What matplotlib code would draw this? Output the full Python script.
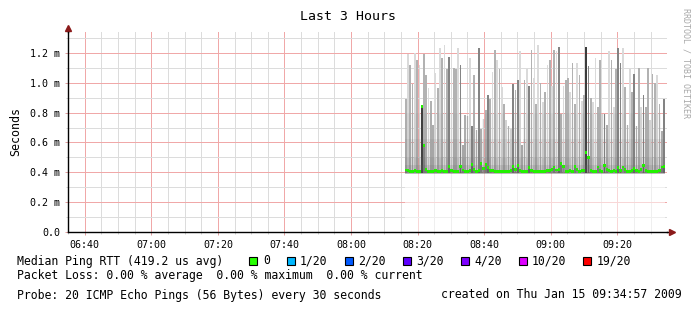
import numpy as np
import matplotlib
matplotlib.use('Agg')
import matplotlib.pyplot as plt
from matplotlib.patches import Rectangle

W, H = 697, 313
MONO = 'DejaVu Sans Mono'

# time range of the graph and of the samples, in minutes after midnight
axis_start = 6 * 60 + 34.95
axis_end = 9 * 60 + 34.95
data_start = 8 * 60 + 16.1
data_end = 9 * 60 + 34.4

# ping times in ms
min_rtt = 0.395
max_rtt = [
    0.89, 1.19, 1.12, 0.99, 1.20, 1.155, 1.12, 0.84, 1.19, 1.05,
    0.965, 0.88, 0.72, 1.065, 0.965, 1.23, 1.165, 1.255, 1.09, 1.175,
    1.03, 1.10, 1.09, 1.23, 1.12, 0.585, 0.785,
    0.775, 1.165, 0.71, 1.05, 0.685, 1.23, 0.69, 0.76, 0.82, 0.92,
    0.89, 1.07, 1.22, 1.15, 1.09, 0.97, 0.86, 0.75, 0.71, 0.69,
    0.99, 0.95, 1.02, 1.21, 0.58, 1.02, 1.09, 0.98, 1.22, 1.03,
    0.86,
    1.25, 1.00, 0.87, 0.94, 1.12, 1.15, 0.98, 1.22, 1.21, 1.24,
    0.79, 0.98, 1.02, 1.03, 0.94, 1.13, 0.86, 1.13, 1.05, 0.88,
    0.92, 1.24, 1.11, 0.90, 0.87, 1.165, 0.84, 1.155, 0.79,
    0.79, 0.72, 1.21, 1.15, 0.84, 1.09, 1.23, 1.13, 1.23, 0.97,
    0.72, 1.09, 0.94, 1.06, 0.71, 1.10, 0.84, 0.92, 0.84, 1.10,
    0.75, 1.06, 1.00, 1.05, 0.86, 0.68, 0.89,
]
# how dense the smoke is in each step: L light, M mid, D dark, K black
smoke_shade = ("MLMMLMLKMMLMMLMLMLMDLMMLDMM"
               "MLDMMDMLMDMLMLMLMLMLDMDLMMLDMLM"
               "LMLMLMLMLDMLMMLMMLMLMKDMLLMML"
               "DMLMLMDDLMMLMDMMLDMMLMMLMMD")
median_rtt = [
    0.415, 0.410, 0.405, 0.407, 0.412, 0.405, 0.408, 0.840, 0.580, 0.420,
    0.406, 0.404, 0.408, 0.412, 0.406, 0.404, 0.410, 0.407, 0.405, 0.440,
    0.412, 0.406, 0.404, 0.408, 0.440, 0.415, 0.405, 0.404, 0.410, 0.450,
    0.420, 0.408, 0.412, 0.460, 0.425, 0.450, 0.430, 0.414, 0.410, 0.406,
    0.404, 0.406, 0.403, 0.405, 0.404, 0.408, 0.412, 0.440, 0.418, 0.445,
    0.410, 0.406, 0.404, 0.408, 0.430, 0.412, 0.406, 0.404, 0.405, 0.407,
    0.404, 0.406, 0.410, 0.412, 0.418, 0.435, 0.415, 0.420, 0.460, 0.440,
    0.408, 0.403, 0.412, 0.406, 0.440, 0.416, 0.404, 0.410, 0.412, 0.530,
    0.500, 0.410, 0.405, 0.408, 0.435, 0.414, 0.406, 0.445, 0.418, 0.410,
    0.406, 0.412, 0.408, 0.430, 0.412, 0.435, 0.418, 0.408, 0.404, 0.410,
    0.425, 0.410, 0.408, 0.418, 0.445, 0.412, 0.404, 0.403, 0.406, 0.405,
    0.408, 0.412, 0.435, 0.440,
]

loss_labels = ['0', '1/20', '2/20', '3/20', '4/20', '10/20', '19/20']
loss_colors = ['#26ff00', '#00b8ff', '#0059ff', '#5e00ff', '#7e00ff', '#dd00ff', '#ff0000']
swatch_x = [249, 287, 345, 403, 461, 519, 583]
label_x = [263, 300, 358, 416, 474, 532, 597]

shade_colors = {'L': '#dadada', 'M': '#b2b2b2', 'D': '#848484', 'K': '#3c3c3c'}


def fx(x):
    return x / W


def fy(y):
    return 1 - y / H


fig = plt.figure(figsize=(W / 100, H / 100), dpi=100)
ax = fig.add_axes([fx(68), fy(232), 599 / W, 200 / H])

n = len(max_rtt)
edges = np.linspace(data_start, data_end, n + 1)
step = edges[1] - edges[0]
tops = np.array(max_rtt)

# lighter area below the smoke
ax.fill_between([data_start, data_end], 0, min_rtt, color='white', alpha=0.55, lw=0, zorder=1)

# smoke: thin spikes, darker towards the bottom
ax.bar(edges[:-1] + 0.12 * step, tops - min_rtt, width=0.76 * step, bottom=min_rtt, align='edge',
       color=[shade_colors[c] for c in smoke_shade], linewidth=0, zorder=2)
for lim, a in [(0.80, 0.07), (0.62, 0.10), (0.50, 0.14), (0.45, 0.18)]:
    ax.bar(edges[:-1], np.minimum(tops, lim) - min_rtt, width=step, bottom=min_rtt, align='edge',
           color='#707070', alpha=a, linewidth=0, zorder=3)

# median, drawn as a thin block on each step
med = np.array(median_rtt)
ax.bar(edges[:-1], med - (min_rtt - 0.006), width=step, bottom=min_rtt - 0.006, align='edge',
       color='#404040', alpha=0.35, linewidth=0, zorder=4)
ax.bar(edges[:-1], 0.019, width=step, bottom=med - 0.0095, align='edge',
       color='#22f000', linewidth=0, zorder=5)

ax.set_xlim(axis_start, axis_end)
ax.set_ylim(0, 1.34)

xt = np.arange(400, 561, 20)
ax.set_xticks(xt)
ax.set_xticklabels([f"{m // 60:02d}:{m % 60:02d}" for m in xt], family=MONO, fontsize=7.2)
ax.set_xticks(np.arange(395, 575, 5), minor=True)
yt = np.round(np.arange(0, 1.21, 0.2), 1)
ax.set_yticks(yt)
ax.set_yticklabels(['0.0'] + [f"{v:.1f} m" for v in yt[1:]], family=MONO, fontsize=7.2)
ax.set_yticks(np.round(np.arange(0.1, 1.31, 0.2), 1), minor=True)

ax.set_axisbelow(True)
ax.grid(which='major', color='#f0a8a8', lw=0.72)
ax.grid(which='minor', color='#dcdcdc', lw=0.72)
ax.tick_params(which='major', length=2.5, width=0.72, color='#e0a0a0', pad=3)
ax.tick_params(which='minor', length=1.5, width=0.72, color='#d0d0d0')

for s in ['top', 'right']:
    ax.spines[s].set_visible(False)
for s in ['left', 'bottom']:
    ax.spines[s].set_color('black')
    ax.spines[s].set_linewidth(1)
    ax.spines[s].set_zorder(6)

# axis arrows
ax.plot([1.0, 1.006], [0, 0], color='black', lw=1, transform=ax.transAxes, clip_on=False)
ax.plot(1.008, 0, marker='>', ms=4, color='#8b1a1a', transform=ax.transAxes, clip_on=False)
ax.plot([0, 0], [1.0, 1.012], color='black', lw=1, transform=ax.transAxes, clip_on=False)
ax.plot(0, 1.018, marker='^', ms=4, color='#8b1a1a', transform=ax.transAxes, clip_on=False)

# texts
fig.text(fx(348), fy(16), 'Last 3 Hours', family=MONO, fontsize=9.5, ha='center', va='center')
fig.text(fx(16), fy(132), 'Seconds', family=MONO, fontsize=8.4, rotation=90, ha='center', va='center')
fig.text(fx(686), fy(63), 'RRDTOOL / TOBI OETIKER', family=MONO, fontsize=6, color='#a8a8a8',
         rotation=270, ha='center', va='center')

fig.text(fx(17), fy(261), 'Median Ping RTT (419.2 us avg)', family=MONO, fontsize=8.3, va='center')
for lab, col, sx, lx in zip(loss_labels, loss_colors, swatch_x, label_x):
    fig.add_artist(Rectangle((fx(sx), fy(265)), 8 / W, 8 / H, transform=fig.transFigure,
                             facecolor=col, edgecolor='black', lw=0.8))
    fig.text(fx(lx), fy(261), lab, family=MONO, fontsize=8.3, va='center')
fig.text(fx(17), fy(275), 'Packet Loss: 0.00 % average  0.00 % maximum  0.00 % current',
         family=MONO, fontsize=8.3, va='center')
fig.text(fx(17), fy(295), 'Probe: 20 ICMP Echo Pings (56 Bytes) every 30 seconds',
         family=MONO, fontsize=8.3, va='center')
fig.text(fx(682), fy(295), 'created on Thu Jan 15 09:34:57 2009',
         family=MONO, fontsize=8.3, va='center', ha='right')

fig.savefig('out.png', dpi=100)
